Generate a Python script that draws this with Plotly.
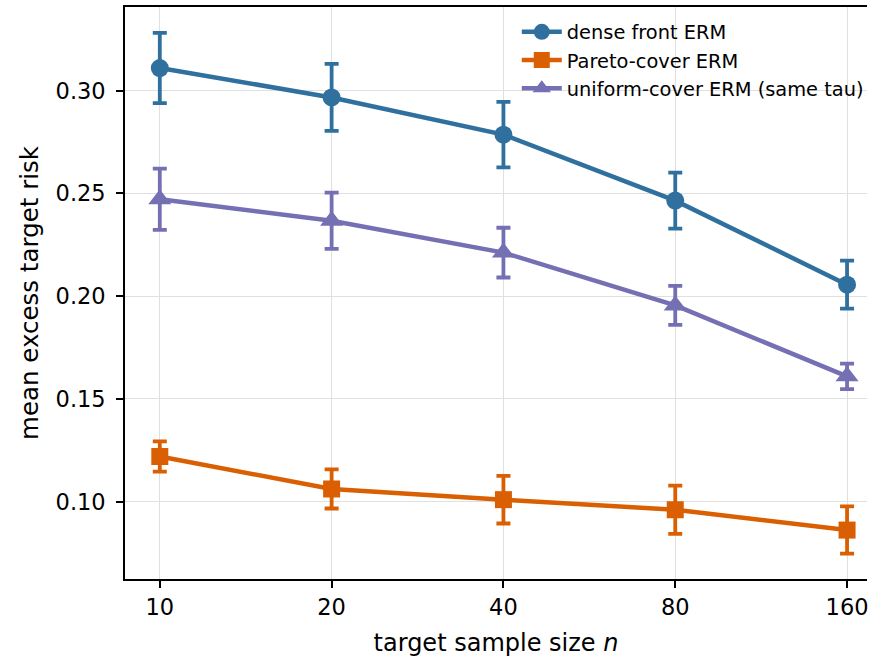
import plotly.graph_objects as go
import math

n_vals = [10, 20, 40, 80, 160]
tick_labels = ["10", "20", "40", "80", "160"]

dense_mean = [0.3110, 0.2967, 0.2786, 0.2465, 0.2056]
dense_err = [0.0171, 0.0163, 0.0159, 0.0136, 0.0117]

pareto_mean = [0.1220, 0.1062, 0.1010, 0.0961, 0.0862]
pareto_err = [0.0074, 0.0095, 0.0116, 0.0117, 0.0115]

uniform_mean = [0.2472, 0.2367, 0.2212, 0.1955, 0.1610]
uniform_err = [0.0149, 0.0137, 0.0121, 0.0095, 0.0062]

series = [
    ("dense front ERM", dense_mean, dense_err, "#2f709f", "circle", 18),
    ("Pareto-cover ERM", pareto_mean, pareto_err, "#d95f02", "square", 17),
    ("uniform-cover ERM (same tau)", uniform_mean, uniform_err, "#7570b3", "triangle-up", 20),
]

fig = go.Figure()
for i, (name, m, e, c, sym, ms) in enumerate(series):
    fig.add_trace(go.Scatter(
        x=n_vals, y=m, name=name, mode="lines+markers",
        line=dict(color=c, width=4.5),
        marker=dict(symbol=sym, size=ms, color=c, line=dict(width=0)),
        error_y=dict(type="data", array=e, visible=True, color=c, thickness=3.8, width=7),
    ))

font_family = "DejaVu Sans"
fig.update_layout(
    width=869, height=657,
    margin=dict(l=125, r=0, t=7, b=78),
    paper_bgcolor="white", plot_bgcolor="white",
    font=dict(family=font_family, size=22, color="black"),
    showlegend=True,
    legend=dict(
        x=0.528, y=0.99, xanchor="left", yanchor="top",
        bgcolor="rgba(255,255,255,0)", borderwidth=0,
        font=dict(size=19.4, family=font_family),
        tracegroupgap=0, itemwidth=40,
    ),
)
fig.update_xaxes(
    type="log", range=[math.log10(8.69), math.log10(173.4)],
    tickmode="array", tickvals=n_vals, ticktext=tick_labels,
    showgrid=True, gridcolor="#e0e0e0", gridwidth=1,
    showline=True, linecolor="black", linewidth=1.6, mirror=True,
    ticks="outside", ticklen=7, tickwidth=1.6, tickcolor="black",
    tickfont=dict(size=22.5), ticklabelstandoff=0,
    title=dict(text="target sample size <i>n</i>", font=dict(size=24), standoff=15),
    zeroline=False,
)
fig.update_yaxes(
    range=[0.0624, 0.3407],
    tickmode="array", tickvals=[0.10, 0.15, 0.20, 0.25, 0.30],
    ticktext=["0.10", "0.15", "0.20", "0.25", "0.30"],
    showgrid=True, gridcolor="#e0e0e0", gridwidth=1,
    showline=True, linecolor="black", linewidth=1.6, mirror=False,
    ticks="outside", ticklen=7, tickwidth=1.6, tickcolor="black",
    tickfont=dict(size=22.5), ticklabelstandoff=6,
    title=dict(text="mean excess target risk", font=dict(size=24.5), standoff=10),
    zeroline=False,
)

fig.write_html("out.html")
